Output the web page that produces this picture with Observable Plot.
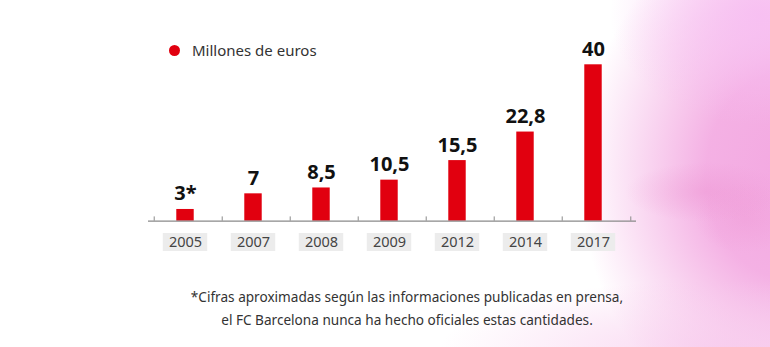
<!DOCTYPE html>
<html>
<head>
<meta charset="utf-8">
<script src="https://cdn.jsdelivr.net/npm/d3@7"></script>
<script src="https://cdn.jsdelivr.net/npm/@observablehq/plot@0.6"></script>
<style>
  html, body { margin: 0; padding: 0; }
  body { width: 770px; height: 347px; overflow: hidden; font-family: "Noto Sans", sans-serif; }
  #wrap {
    position: relative; width: 770px; height: 347px; overflow: hidden;
    background:
      radial-gradient(ellipse 80px 30px at 705px 192px, rgba(235,140,205,0.35), rgba(235,140,205,0) 100%),
      radial-gradient(ellipse 50px 35px at 745px 218px, rgba(238,150,210,0.35), rgba(238,150,210,0) 100%),
      radial-gradient(ellipse 150px 110px at 760px 15px, rgba(247,190,242,0.9), rgba(247,190,242,0) 100%),
      radial-gradient(ellipse 280px 70px at 720px 350px, rgba(247,200,236,0.75), rgba(247,200,236,0) 100%),
      radial-gradient(ellipse 210px 260px at 790px 175px, rgba(243,168,225,1) 0%, rgba(243,168,225,0.9) 40%, rgba(243,168,225,0) 100%),
      #ffffff;
  }
  #chart { position: absolute; left: 0; top: 0; }
  #legend { position: absolute; left: 169px; top: 40px; font-size: 15px; color: #333; display: flex; align-items: center; }
  #legend .dot { width: 11px; height: 11px; border-radius: 50%; background: #e1000f; margin-right: 12px; }
  #note { position: absolute; left: 0; width: 814px; top: 285px; text-align: center; font-size: 13.6px; line-height: 23px; color: #333; }
</style>
</head>
<body>
<div id="wrap">
  <div id="chart"></div>
  <div id="legend"><span class="dot"></span><span id="legendText"></span></div>
  <div id="note"></div>
</div>
<script>
const years = ["2005", "2007", "2008", "2009", "2012", "2014", "2017"];
const values = [3, 7, 8.5, 10.5, 15.5, 22.8, 40];
const valueLabels = ["3*", "7", "8,5", "10,5", "15,5", "22,8", "40"];
const seriesName = "Millones de euros";
const noteLines = [
  "*Cifras aproximadas según las informaciones publicadas en prensa,",
  "el FC Barcelona nunca ha hecho oficiales estas cantidades."
];

const data = years.map((y, i) => ({year: y, value: values[i], label: valueLabels[i]}));
const lastYear = years[years.length - 1];

const red = "#e1000f";
const step = (629 - 149) / years.length;

const plot = Plot.plot({
  width: 770,
  height: 262,
  marginLeft: 148,
  marginRight: 134,
  marginTop: 64.3,
  marginBottom: 41.3,
  style: {background: "transparent", fontFamily: "Noto Sans, sans-serif"},
  x: {type: "band", domain: years, range: [149, 629], padding: 0, axis: null},
  y: {domain: [0, 40], axis: null},
  marks: [
    Plot.barY(years, {x: d => d, y1: 0, y2: 0, fill: "#ececec", insetLeft: (step - 45) / 2, insetRight: (step - 45) / 2, insetTop: -9, insetBottom: -9, dy: 21.3}),
    Plot.text(years, {x: d => d, y: 0, text: d => d, dy: 21.5, fontSize: 14.5, fill: "#444", lineAnchor: "middle"}),
    Plot.barY(data, {x: "year", y: "value", fill: red, insetLeft: (step - 18) / 2, insetRight: (step - 18) / 2}),
    Plot.text(data, {x: "year", y: "value", text: "label", lineAnchor: "bottom", dy: -9, fontSize: 20, fontWeight: "bold", fill: "#111"}),
    Plot.ruleY([0], {stroke: "#8a8a8a", strokeWidth: 1.3}),
    Plot.ruleX(years, {x: d => d, y1: 0, y2: 1.1, dx: -step / 2 + 3, stroke: "#8a8a8a", strokeWidth: 1}),
    Plot.ruleX([lastYear], {x: d => d, y1: 0, y2: 1.1, dx: step / 2 + 3, stroke: "#8a8a8a", strokeWidth: 1})
  ]
});
document.getElementById("chart").appendChild(plot);
document.getElementById("legendText").textContent = seriesName;
document.getElementById("note").innerHTML = noteLines.map(s => `<div>${s}</div>`).join("");
</script>
</body>
</html>
